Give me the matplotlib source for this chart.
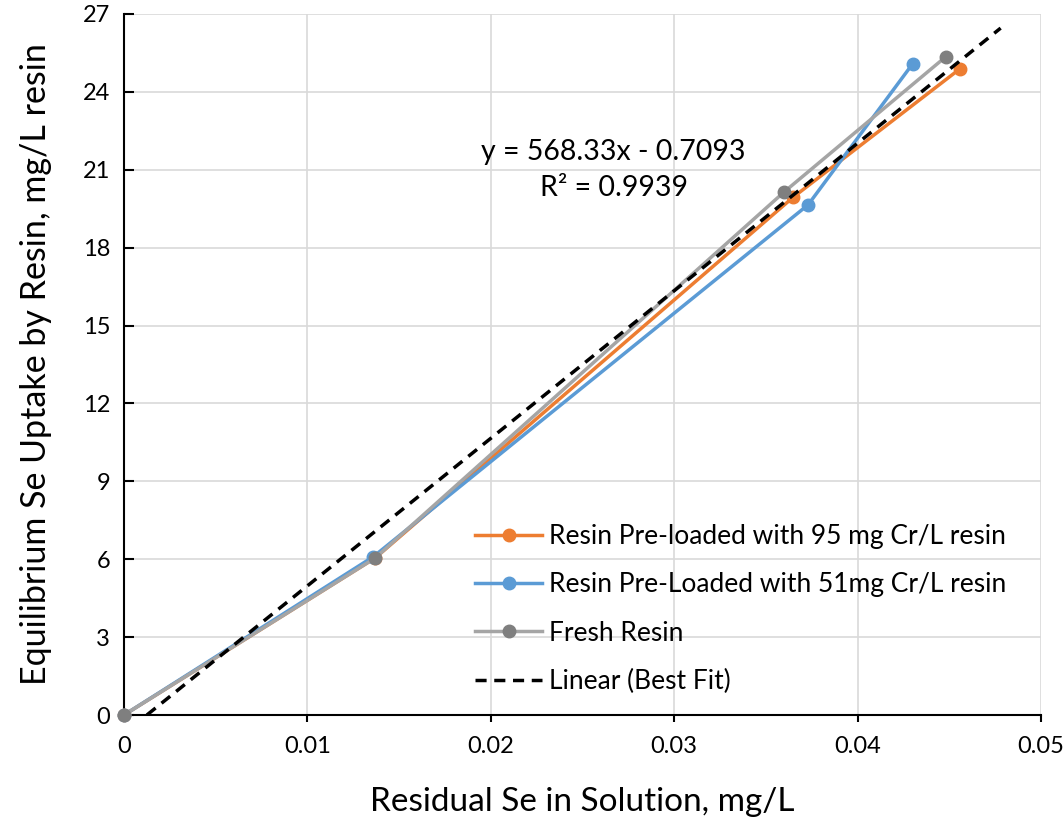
import matplotlib.pyplot as plt
import numpy as np

plt.rcParams['font.family'] = ['Lato', 'DejaVu Sans']

# residual Se (mg/L) vs equilibrium uptake (mg/L resin)
x_95 = [0, 0.0137, 0.0365, 0.0456]
y_95 = [0, 6.05, 19.95, 24.9]
x_51 = [0, 0.0136, 0.0373, 0.0430]
y_51 = [0, 6.1, 19.65, 25.08]
x_fresh = [0, 0.0137, 0.0360, 0.0448]
y_fresh = [0, 6.05, 20.15, 25.35]

fit_slope = 568.33
fit_intercept = -0.7093
fit_r2 = 0.9939
fit_x_range = [0.00125, 0.0478]

labels = ["Resin Pre-loaded with 95 mg Cr/L resin",
          "Resin Pre-Loaded with 51mg Cr/L resin",
          "Fresh Resin",
          "Linear (Best Fit)"]

fig = plt.figure(figsize=(10.63, 8.27), dpi=100)
ax = fig.add_axes([124 / 1063, 1 - 715 / 827, (1041 - 124) / 1063, (715 - 14) / 827])

ax.plot(x_95, y_95, color="#ED7D31", lw=2.5, marker="o", ms=9, label=labels[0], zorder=3, clip_on=False)
ax.plot(x_51, y_51, color="#5B9BD5", lw=2.5, marker="o", ms=9, label=labels[1], zorder=4, clip_on=False)
ax.plot(x_fresh, y_fresh, color="#A5A5A5", lw=2.5, marker="o", ms=9,
        mfc="#7F7F7F", mec="#7F7F7F", label=labels[2], zorder=5, clip_on=False)

fx = np.array(fit_x_range)
ax.plot(fx, fit_slope * fx + fit_intercept, color="black", lw=2.5, ls=(0, (3.2, 2.2)),
        label=labels[3], zorder=6)

ax.text(0.0267, 21.7, f"y = {fit_slope}x - {abs(fit_intercept)}", fontsize=20.5, ha="center", va="center")
ax.text(0.0267, 20.3, f"R² = {fit_r2}", fontsize=20.5, ha="center", va="center")

ax.set_xlim(0, 0.05)
ax.set_ylim(0, 27)
ax.set_xticks([0, 0.01, 0.02, 0.03, 0.04, 0.05])
ax.set_xticklabels(["0", "0.01", "0.02", "0.03", "0.04", "0.05"])
ax.set_yticks(range(0, 28, 3))
ax.grid(True, color="#D9D9D9", lw=1.2)
ax.set_axisbelow(True)
for s in ["top", "right"]:
    ax.spines[s].set_visible(False)
for s in ["left", "bottom"]:
    ax.spines[s].set_color("black")
    ax.spines[s].set_linewidth(1.5)
ax.tick_params(axis="x", direction="out", length=5, width=1.5, labelsize=17, pad=10)
ax.tick_params(axis="y", direction="in", length=7, width=1.5, labelsize=17, pad=10)

ax.set_xlabel("Residual Se in Solution, mg/L", fontsize=24, labelpad=22)
ax.set_ylabel("Equilibrium Se Uptake by Resin, mg/L resin", fontsize=24.5, labelpad=22)

ax.legend(loc="lower right", bbox_to_anchor=(0.985, 0.0), frameon=False, fontsize=19,
          handlelength=2.55, handletextpad=0.25, labelspacing=0.88, borderaxespad=0.4)

fig.savefig("out.png", dpi=100)
